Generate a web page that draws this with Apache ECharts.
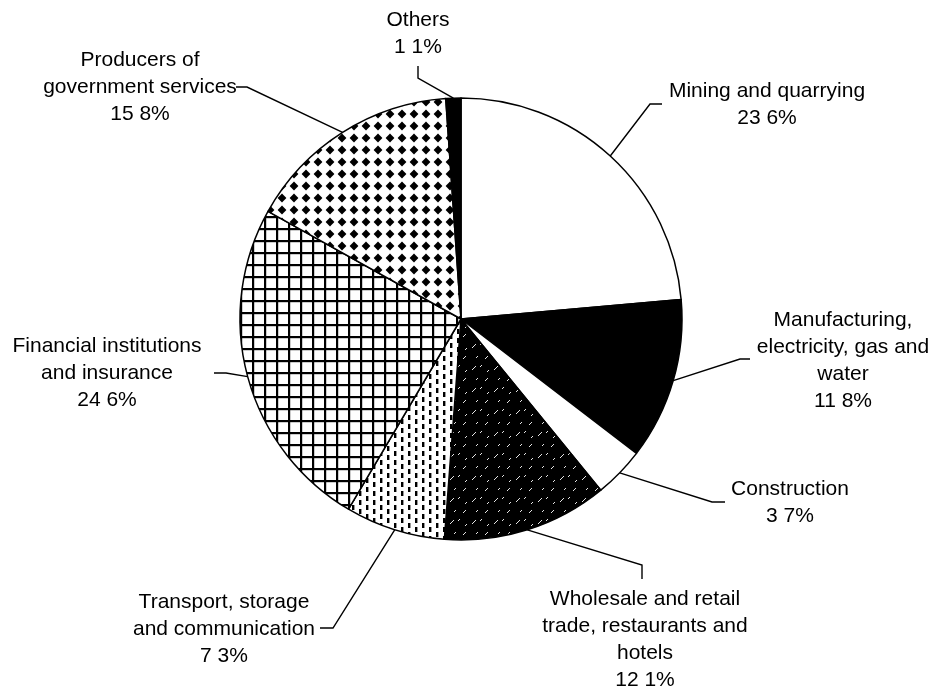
<!DOCTYPE html>
<html>
<head>
<meta charset="utf-8">
<script src="https://cdn.jsdelivr.net/npm/echarts@6/dist/echarts.min.js"></script>
<style>
html, body { margin: 0; background: #fff; }
#main { width: 939px; height: 693px; }
</style>
</head>
<body>
<div id="main"></div>
<script>
// sectors, clockwise from 12 o'clock
const sectors = [
    'Mining and quarrying',
    'Manufacturing',
    'Construction',
    'Wholesale and retail trade',
    'Transport',
    'Financial institutions',
    'Producers of government services',
    'Others'
];
const sectorLabels = [
    'Mining and quarrying',
    'Manufacturing,\nelectricity, gas and\nwater',
    'Construction',
    'Wholesale and retail\ntrade, restaurants and\nhotels',
    'Transport, storage\nand communication',
    'Financial institutions\nand insurance',
    'Producers of\ngovernment services',
    'Others'
];
const shares = [23.6, 11.8, 3.7, 12.1, 7.3, 24.6, 15.8, 1.1];
const shareLabels = ['23 6%', '11 8%', '3 7%', '12 1%', '7 3%', '24 6%', '15 8%', '1 1%'];

// label placement: block centre and the two leader points next to the text
const labelPlace = [
    { x: 767, y: 105, pts: [[650, 104], [662, 104]] },
    { x: 843, y: 361, pts: [[740, 359], [750, 359]] },
    { x: 790, y: 503, pts: [[712, 502], [725, 502]] },
    { x: 645, y: 640, pts: [[642, 565], [642, 579]] },
    { x: 224, y: 629, pts: [[333, 628], [320, 628]] },
    { x: 107, y: 373, pts: [[226, 373], [214, 373]] },
    { x: 140, y: 87, pts: [[247, 87], [236, 87]] },
    { x: 418, y: 34, pts: [[418, 78], [418, 66]] }
];

function makePattern(w, h, draw) {
    const c = document.createElement('canvas');
    c.width = w;
    c.height = h;
    const ctx = c.getContext('2d');
    draw(ctx, w, h);
    return { image: c, repeat: 'repeat' };
}

// black with sparse white diagonal dashes
const hatchDark = makePattern(22, 22, (ctx, w, h) => {
    ctx.fillStyle = '#000';
    ctx.fillRect(0, 0, w, h);
    ctx.strokeStyle = '#fff';
    ctx.lineWidth = 0.9;
    const dashes = [[1, 7, 4, 4], [10, 18, 14, 14], [14, 6, 16, 4], [3, 20, 5, 18], [18, 15, 20, 13]];
    dashes.forEach(d => {
        ctx.beginPath();
        ctx.moveTo(d[0], d[1]);
        ctx.lineTo(d[2], d[3]);
        ctx.stroke();
    });
});

// white with short vertical dashes
const vDashes = makePattern(14, 18, (ctx, w, h) => {
    ctx.fillStyle = '#fff';
    ctx.fillRect(0, 0, w, h);
    ctx.fillStyle = '#000';
    ctx.fillRect(2, 1, 2.4, 5);
    ctx.fillRect(2, 10, 2.4, 5);
    ctx.fillRect(9, 5, 2.4, 5);
    ctx.fillRect(9, 14, 2.4, 4);
    ctx.fillRect(9, 0, 2.4, 1);
});

// square grid
const grid = makePattern(12, 12, (ctx, w, h) => {
    ctx.fillStyle = '#fff';
    ctx.fillRect(0, 0, w, h);
    ctx.fillStyle = '#000';
    ctx.fillRect(0, 0, 2.2, h);
    ctx.fillRect(0, 0, w, 2.2);
});

// black diamonds
const diamonds = makePattern(12, 12, (ctx, w, h) => {
    ctx.fillStyle = '#fff';
    ctx.fillRect(0, 0, w, h);
    ctx.fillStyle = '#000';
    ctx.beginPath();
    ctx.moveTo(6, 1.6);
    ctx.lineTo(10.4, 6);
    ctx.lineTo(6, 10.4);
    ctx.lineTo(1.6, 6);
    ctx.closePath();
    ctx.fill();
});

const fills = ['#fff', '#000', '#fff', hatchDark, vDashes, grid, diamonds, '#000'];

const chart = echarts.init(document.getElementById('main'));

chart.setOption({
    backgroundColor: '#fff',
    animation: false,
    textStyle: { fontFamily: 'Liberation Sans, Arial, sans-serif' },
    series: [{
        type: 'pie',
        center: [461, 319],
        radius: 221,
        startAngle: 90,
        clockwise: true,
        avoidLabelOverlap: false,
        data: sectors.map((name, i) => ({
            name: name,
            value: shares[i],
            itemStyle: { color: fills[i] }
        })),
        itemStyle: { borderColor: '#000', borderWidth: 1.5 },
        emphasis: { disabled: true },
        label: {
            show: true,
            position: 'outside',
            color: '#000',
            fontSize: 21,
            lineHeight: 27,
            align: 'center',
            formatter: p => sectorLabels[p.dataIndex] + '\n' + shareLabels[p.dataIndex]
        },
        labelLine: {
            show: true,
            length: 20,
            length2: 10,
            lineStyle: { color: '#000', width: 1.4 }
        },
        labelLayout: params => {
            const lp = labelPlace[params.dataIndex];
            const start = params.labelLinePoints ? params.labelLinePoints[0] : lp.pts[0];
            return {
                x: lp.x,
                y: lp.y,
                align: 'center',
                verticalAlign: 'middle',
                labelLinePoints: [start, lp.pts[0], lp.pts[1]]
            };
        }
    }]
});
</script>
</body>
</html>
